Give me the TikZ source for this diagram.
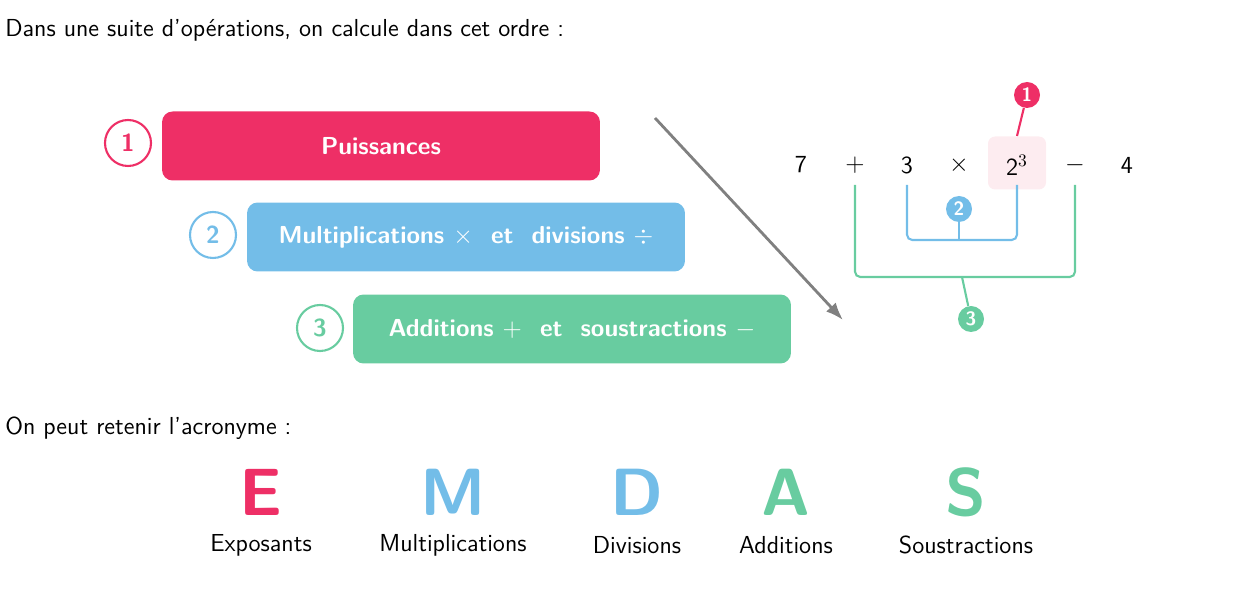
\documentclass[tikz,border=0pt]{standalone}
\usepackage{amsmath}
\usetikzlibrary{arrows.meta}
\begin{document}
\sffamily
\definecolor{cr}{HTML}{EE2F66}
\definecolor{cb}{HTML}{73BDE8}
\definecolor{cg}{HTML}{68CCA0}
\definecolor{cp}{HTML}{FDECF0}
\begin{tikzpicture}[x=0.02cm,y=-0.02cm,
  txt/.style={font=\fontsize{14}{16}\selectfont\sffamily, inner sep=0pt},
  box/.style={rounded corners=6pt, minimum width=8.76cm, minimum height=1.38cm, text=white, font=\fontsize{14}{16}\selectfont\sffamily\bfseries},
  num/.style={circle, draw, line width=1.2pt, minimum size=0.92cm, inner sep=0pt, fill=white, font=\fontsize{14}{16}\selectfont\sffamily\bfseries},
  lab/.style={circle, minimum size=0.52cm, inner sep=0pt, text=white, font=\fontsize{11}{12}\selectfont\sffamily\bfseries},
  ex/.style={font=\fontsize{14}{16}\selectfont\sffamily, inner sep=1pt},
  big/.style={font=\fontsize{38}{40}\selectfont\sffamily\bfseries, inner sep=0pt},
  sm/.style={font=\fontsize{14}{16}\selectfont\sffamily, inner sep=0pt}]
\useasboundingbox (0,0) rectangle (1247,590);
\node[txt, anchor=west] (t1) at (5,30) {Dans une suite d'opérations, on calcule dans cet ordre :};
\node[num, draw=cr, text=cr] (n1) at (128,143) {1};
\node[box, fill=cr] (b1) at (381,146) {Puissances};
\node[num, draw=cb, text=cb] (n2) at (213,235) {2};
\node[box, fill=cb] (b2) at (466,237) {Multiplications $\times$ \ et \ divisions $\div$};
\node[num, draw=cg, text=cg] (n3) at (320,328) {3};
\node[box, fill=cg] (b3) at (572,329) {Additions $+$ \ et \ soustractions $-$};
\coordinate (a0) at (655,118); \coordinate (a1) at (843,320);
\draw[gray, line width=1.6pt, -{Latex[length=10pt]}] (a0) -- (a1);
% expression
\node[fill=cp, rounded corners=4pt, minimum width=1.16cm, minimum height=1.06cm] (pk) at (1017,163) {};
\node[ex] (e7) at (801,165) {7};
\node[ex] (ep) at (855,165) {$+$};
\node[ex] (e3) at (907,165) {3};
\node[ex] (em) at (959,165) {$\times$};
\node[ex] (e2) at (1017,165) {2$^3$};
\node[ex] (es) at (1075,165) {$-$};
\node[ex] (e4) at (1127,165) {4};
\node[lab, fill=cr] (l1) at (1027,95) {1};
\draw[cr, line width=1.2pt] (1017,136) -- (l1);
\draw[cb, line width=1.2pt, rounded corners=3pt] (907,185) -- (907,240) -- (1017,240) -- (1017,185);
\node[lab, fill=cb] (l2) at (959,209) {2};
\draw[cb, line width=1.2pt] (959,240) -- (l2);
\draw[cg, line width=1.2pt, rounded corners=3pt] (855,185) -- (855,277) -- (1075,277) -- (1075,185);
\node[lab, fill=cg] (l3) at (971,319) {3};
\draw[cg, line width=1.2pt] (962,277) -- (l3);
\node[txt, anchor=west] (t2) at (5,428) {On peut retenir l'acronyme :};
\node[big, text=cr] (E) at (261,492) {E};
\node[big, text=cb] (M) at (453,492) {M};
\node[big, text=cb] (D) at (637,492) {D};
\node[big, text=cg] (A) at (786,492) {A};
\node[big, text=cg] (S) at (966,492) {S};
\node[sm] (wE) at (261,545) {Exposants};
\node[sm] (wM) at (453,545) {Multiplications};
\node[sm] (wD) at (637,545) {Divisions};
\node[sm] (wA) at (786,545) {Additions};
\node[sm] (wS) at (966,545) {Soustractions};
\end{tikzpicture}
\end{document}
